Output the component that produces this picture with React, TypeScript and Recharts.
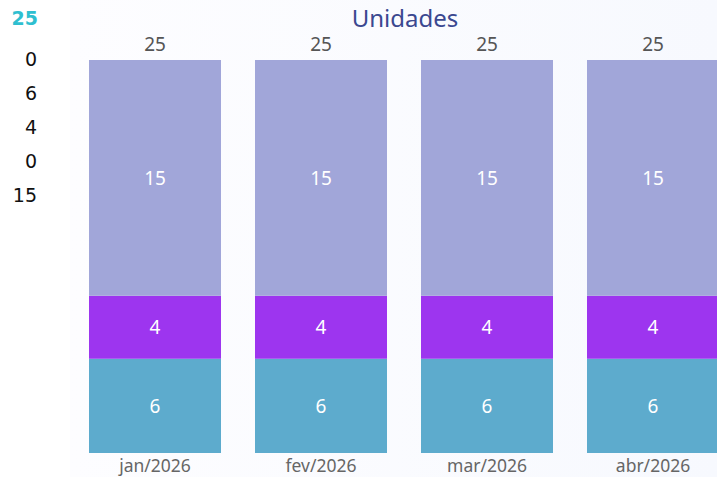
import { BarChart, Bar, XAxis, YAxis, LabelList } from 'recharts';

const months = ['jan/2026', 'fev/2026', 'mar/2026', 'abr/2026'];
const cyanValues = [6, 6, 6, 6];
const purpleValues = [4, 4, 4, 4];
const lavenderValues = [15, 15, 15, 15];
const sideTotal = 25;
const sideValues = [0, 6, 4, 0, 15];

const data = months.map((month, i) => ({
    month,
    cyan: cyanValues[i],
    purple: purpleValues[i],
    lavender: lavenderValues[i],
    total: cyanValues[i] + purpleValues[i] + lavenderValues[i],
}));

const FONT = '"Noto Sans", "Open Sans", sans-serif';
const SIDE_FONT = '"DejaVu Sans", Verdana, sans-serif';

export default function App() {
    return (
        <div style={{ position: 'absolute', left: 0, top: 0, width: 717, height: 477, overflow: 'hidden', background: '#fff' }}>
            <div style={{ position: 'absolute', left: 70, top: 0, width: 647, height: 477, background: 'linear-gradient(90deg, #fdfdff 0%, #f7f9fe 100%)' }} />
            <div style={{ position: 'absolute', left: 0, top: 0, width: 740, height: 477 }}>
                <BarChart width={740} height={477} data={data} margin={{ top: 60, right: 4, bottom: 0, left: 72 }} barCategoryGap={17}>
                    <XAxis dataKey="month" axisLine={false} tickLine={false} height={24} interval={0}
                        tick={{ fill: '#666', fontSize: 17.5, fontFamily: FONT }} tickMargin={1} />
                    <YAxis hide domain={[0, 25]} />
                    <Bar dataKey="cyan" stackId="a" fill="#5dabcd" isAnimationActive={false}>
                        <LabelList dataKey="cyan" position="center" fill="#fff" fontSize={19} fontFamily={FONT} />
                    </Bar>
                    <Bar dataKey="purple" stackId="a" fill="#9d35ef" isAnimationActive={false}>
                        <LabelList dataKey="purple" position="center" fill="#fff" fontSize={19} fontFamily={FONT} />
                    </Bar>
                    <Bar dataKey="lavender" stackId="a" fill="#a1a6d9" isAnimationActive={false}>
                        <LabelList dataKey="lavender" position="center" fill="#fff" fontSize={19} fontFamily={FONT} />
                        <LabelList dataKey="total" position="top" offset={9} fill="#555" fontSize={19} fontFamily={FONT} />
                    </Bar>
                </BarChart>
            </div>
            <div style={{ position: 'absolute', left: 300, top: 1, width: 210, textAlign: 'center', fontFamily: FONT, fontSize: 24, color: '#3b4890' }}>
                Unidades
            </div>
            <div style={{ position: 'absolute', left: 0, top: 7, width: 38, textAlign: 'right', fontFamily: SIDE_FONT, fontSize: 19, fontWeight: 'bold', color: '#2fbfd0', lineHeight: '22px' }}>
                {sideTotal}
            </div>
            {sideValues.map((v, i) => (
                <div key={i} style={{ position: 'absolute', left: 0, top: 48 + i * 34, width: 37, textAlign: 'right', fontFamily: SIDE_FONT, fontSize: 19, color: '#111', lineHeight: '22px' }}>
                    {v}
                </div>
            ))}
        </div>
    );
}
